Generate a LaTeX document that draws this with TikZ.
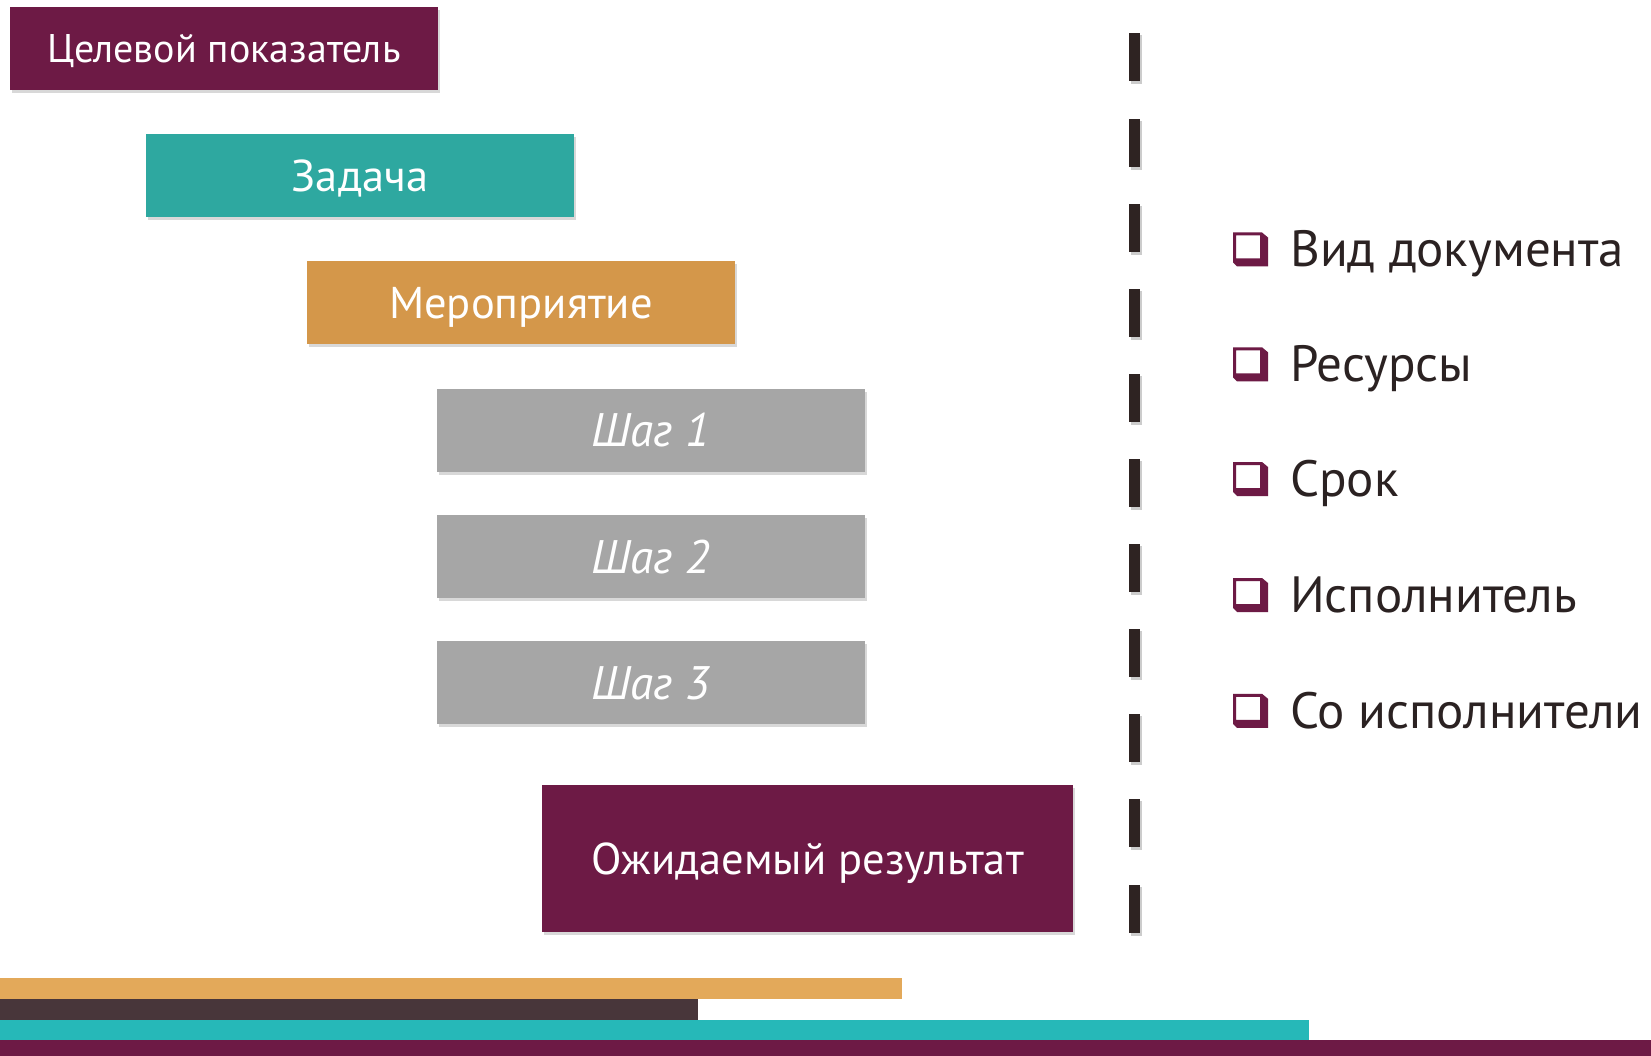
\documentclass[tikz,border=0pt]{standalone}
\usepackage{fontspec}
\setmainfont{PT Sans}
\usetikzlibrary{shadows}
\definecolor{maroon}{HTML}{6D1A45}
\definecolor{tealbox}{HTML}{2EA8A0}
\definecolor{orangebox}{HTML}{D4974A}
\definecolor{graybox}{HTML}{A6A6A6}
\definecolor{barorange}{HTML}{E3A95A}
\definecolor{barbrown}{HTML}{48363A}
\definecolor{barteal}{HTML}{26B8B8}
\definecolor{darktext}{HTML}{2B2222}
\definecolor{dashcol}{HTML}{2E2322}
\tikzset{
  box/.style={minimum width=428pt, minimum height=83pt, inner sep=0pt, text=white,
    text depth=0pt,
    drop shadow={opacity=0.3, shadow xshift=2pt, shadow yshift=-3pt}},
  fs40/.style={font=\fontsize{40}{48}\selectfont, text height=28pt},
  fs44/.style={font=\fontsize{44.5}{52}\selectfont, text height=31pt},
  fs47/.style={font=\fontsize{47}{54}\selectfont\itshape, text height=33pt},
  itemtext/.style={anchor=base west, inner sep=0pt, text=darktext, font=\fontsize{51}{58}\selectfont},
}
\newcommand{\chkbox}[2]{%
  \fill[maroon,even odd rule] (#1,#2-17) -- (#1+29,#2-17) -- (#1+35,#2-12) -- (#1+35,#2+17) -- (#1+4,#2+17) -- (#1,#2+13) -- cycle
     (#1+3,#2-14) rectangle (#1+27,#2+9);}
\begin{document}
\begin{tikzpicture}[x=1pt,y=-1pt]
\useasboundingbox[fill=white] (0,0) rectangle (1651,1056);
% boxes
\node[box, fs40, fill=maroon] (goal) at (224,48.5) {Целевой показатель};
\node[box, fs44, fill=tealbox] (task) at (360,176) {Задача};
\node[box, fs44, fill=orangebox] (event) at (521,303) {Мероприятие};
\node[box, fs47, fill=graybox] (s1) at (650.5,430) {Шаг 1};
\node[box, fs47, fill=graybox] (s2) at (650.5,556.5) {Шаг 2};
\node[box, fs47, fill=graybox] (s3) at (650.5,682.5) {Шаг 3};
\node[box, fs44, fill=maroon, minimum width=531pt, minimum height=147pt] (res) at (807.5,858.5) {Ожидаемый результат};
% dashed separator
\foreach \k in {0,...,10} {
  \fill[black!20] (1131,33.5+85.1*\k+2) rectangle (1142,33.5+85.1*\k+51);
  \fill[dashcol] (1129,33.5+85.1*\k) rectangle (1140,33.5+85.1*\k+48);
}
% list
\foreach \yy/\t [count=\i] in {249.5/Вид документа, 364.3/Ресурсы, 479/Срок, 595/Исполнитель, 710.8/Со исполнители} {
  \chkbox{1233}{\yy}
  \node[itemtext] (item\i) at (1290,\yy+17.5) {\t};
}
% bottom bars
\fill[barorange] (0,978) rectangle (902,998.5);
\fill[barbrown] (0,998.5) rectangle (698,1019.5);
\fill[barteal] (0,1019.5) rectangle (1309,1040);
\fill[maroon] (0,1040) rectangle (1651,1056);
\end{tikzpicture}
\end{document}
